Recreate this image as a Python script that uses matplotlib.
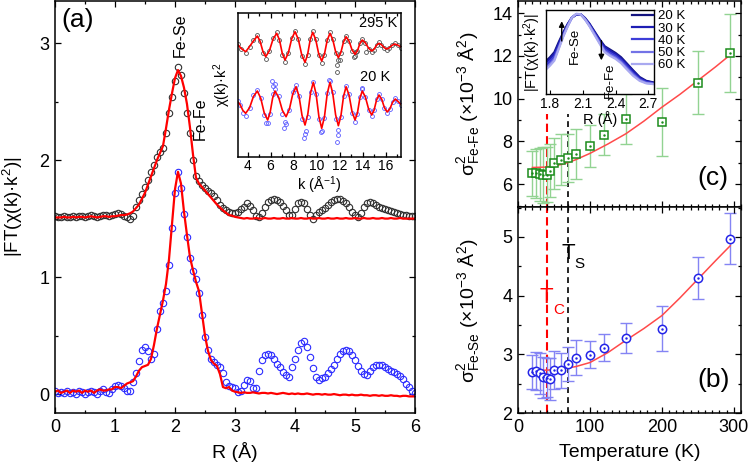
import numpy as np
import matplotlib.pyplot as plt
from matplotlib.ticker import MultipleLocator

plt.rcParams['font.family'] = ['Liberation Sans', 'DejaVu Sans']
plt.rcParams['mathtext.fontset'] = 'custom'
plt.rcParams['mathtext.rm'] = 'Liberation Sans'
plt.rcParams['mathtext.it'] = 'Liberation Sans:italic'
plt.rcParams['mathtext.default'] = 'regular'

# ---------------- panel (a): |FT| vs R ----------------
r_grid = np.round(np.arange(121) * 0.05, 2)

ft295_data = [1.52, 1.51, 1.51, 1.52, 1.51, 1.51, 1.52, 1.51, 1.52, 1.52,
              1.51, 1.52, 1.53, 1.52, 1.51, 1.52, 1.53, 1.53, 1.52, 1.53,
              1.54, 1.545, 1.54, 1.52, 1.51, 1.50, 1.52, 1.60, 1.66, 1.71,
              1.77, 1.83, 1.90, 1.96, 2.03, 2.07, 2.10, 2.23, 2.40, 2.54,
              2.68, 2.80, 2.73, 2.57, 2.40, 2.23, 2.00, 1.86, 1.82, 1.79,
              1.76, 1.735, 1.715, 1.69, 1.66, 1.62, 1.59, 1.57, 1.56, 1.55,
              1.55, 1.56, 1.58, 1.60, 1.63, 1.61, 1.57, 1.52, 1.51, 1.55,
              1.60, 1.64, 1.66, 1.665, 1.66, 1.64, 1.61, 1.57, 1.53, 1.53,
              1.58, 1.63, 1.645, 1.63, 1.58, 1.53, 1.50, 1.53, 1.56, 1.57,
              1.59, 1.62, 1.645, 1.66, 1.665, 1.665, 1.65, 1.63, 1.60, 1.56,
              1.53, 1.51, 1.55, 1.60, 1.63, 1.64, 1.635, 1.62, 1.60, 1.59,
              1.58, 1.575, 1.565, 1.56, 1.55, 1.54, 1.535, 1.53, 1.525, 1.52,
              1.52]
ft295_fit = [1.51, 1.51, 1.51, 1.515, 1.51, 1.51, 1.515, 1.51, 1.515, 1.515,
             1.51, 1.515, 1.52, 1.515, 1.51, 1.515, 1.52, 1.52, 1.515, 1.52,
             1.52, 1.525, 1.53, 1.53, 1.535, 1.545, 1.56, 1.59, 1.62, 1.67,
             1.72, 1.79, 1.86, 1.93, 2.00, 2.06, 2.12, 2.27, 2.43, 2.57,
             2.70, 2.77, 2.72, 2.62, 2.48, 2.28, 2.05, 1.85, 1.80, 1.77,
             1.74, 1.71, 1.68, 1.65, 1.62, 1.595, 1.57, 1.55, 1.53, 1.525,
             1.515, 1.51, 1.505, 1.50, 1.505, 1.50, 1.50, 1.505, 1.50, 1.50,
             1.505, 1.50, 1.50, 1.505, 1.50, 1.50, 1.505, 1.50, 1.50, 1.505,
             1.50, 1.50, 1.505, 1.50, 1.50, 1.505, 1.50, 1.50, 1.505, 1.50,
             1.50, 1.505, 1.50, 1.50, 1.505, 1.50, 1.50, 1.505, 1.50, 1.50,
             1.505, 1.50, 1.50, 1.505, 1.50, 1.50, 1.505, 1.50, 1.50, 1.505,
             1.50, 1.50, 1.505, 1.50, 1.50, 1.505, 1.50, 1.50, 1.50, 1.50,
             1.50]
ft20_data = [0.03, 0.01, 0.02, 0.01, 0.03, 0.01, 0.02, 0.00, 0.03, 0.02,
             0.00, 0.02, 0.03, 0.02, 0.00, 0.03, 0.04, 0.02, 0.01, 0.04,
             0.07, 0.08, 0.07, 0.05, 0.03, 0.03, 0.10, 0.18, 0.28, 0.38,
             0.40, 0.37, 0.30, 0.34, 0.56, 0.71, 0.78, 0.88, 1.10, 1.42,
             1.72, 1.90, 1.76, 1.54, 1.34, 1.16, 1.05, 0.98, 0.86, 0.68,
             0.49, 0.38, 0.30, 0.27, 0.25, 0.23, 0.18, 0.10, 0.07, 0.06,
             0.05, 0.02, 0.03, 0.08, 0.12, 0.11, 0.05, 0.05, 0.20, 0.29,
             0.33, 0.345, 0.335, 0.30, 0.26, 0.23, 0.19, 0.16, 0.15, 0.23,
             0.30, 0.38, 0.44, 0.45, 0.40, 0.32, 0.22, 0.15, 0.12, 0.14,
             0.15, 0.18, 0.21, 0.25, 0.30, 0.34, 0.37, 0.375, 0.365, 0.33,
             0.29, 0.24, 0.20, 0.17, 0.16, 0.20, 0.23, 0.245, 0.25, 0.245,
             0.23, 0.21, 0.195, 0.185, 0.175, 0.155, 0.13, 0.09, 0.06, 0.03,
             0.01]
ft20_fit = [0.02, 0.03, 0.01, 0.02, 0.03, 0.01, 0.03, 0.02, 0.03, 0.01,
            0.03, 0.02, 0.03, 0.01, 0.03, 0.04, 0.03, 0.03, 0.04, 0.04,
            0.06, 0.06, 0.05, 0.07, 0.09, 0.10, 0.11, 0.15, 0.20, 0.23,
            0.24, 0.25, 0.30, 0.42, 0.56, 0.68, 0.80, 0.94, 1.15, 1.45,
            1.75, 1.90, 1.80, 1.56, 1.36, 1.17, 1.06, 0.96, 0.88, 0.69,
            0.50, 0.37, 0.29, 0.26, 0.24, 0.17, 0.06, 0.05, 0.06, 0.03,
            0.02, 0.015, 0.01, 0.015, 0.01, 0.01, 0.015, 0.01, 0.005, 0.01,
            0.01, 0.005, 0.01, 0.005, 0.0, 0.005, 0.01, 0.005, 0.0, 0.005,
            0.0, 0.005, 0.0, 0.0, 0.005, 0.0, -0.005, 0.0, 0.0, -0.005,
            0.0, -0.005, -0.005, 0.0, -0.005, -0.01, -0.005, -0.005, -0.01, -0.005,
            -0.01, -0.01, -0.005, -0.01, -0.01, -0.015, -0.01, -0.01, -0.015, -0.01,
            -0.015, -0.015, -0.01, -0.015, -0.015, -0.02, -0.015, -0.015, -0.02, -0.02,
            -0.02]

# ---------------- inset of (a): chi(k) k^2 ----------------
k295 = [3.13, 3.45, 3.84, 4.18, 4.51, 4.85, 5.09, 5.34, 5.58, 5.90, 6.22, 6.54,
        6.78, 7.02, 7.26, 7.55, 7.84, 8.13, 8.42, 8.71, 9.00, 9.22, 9.45, 9.67,
        9.93, 10.19, 10.45, 10.69, 10.93, 11.17, 11.41, 11.66, 11.90, 12.12, 12.35,
        12.57, 12.83, 13.09, 13.35, 13.56, 13.77, 13.98, 14.25, 14.53, 14.80, 15.01,
        15.22, 15.43, 15.65, 15.88, 16.10, 16.33, 16.57, 16.80, 17.05, 17.35]
chi295_fit = [6.07, 5.65, 5.33, 5.85, 6.40, 6.90, 6.38, 5.35, 4.83, 5.42, 6.59, 7.17,
              6.50, 5.17, 4.50, 5.21, 6.62, 7.33, 6.57, 5.04, 4.27, 5.02, 6.52, 7.27,
              6.55, 5.12, 4.40, 5.09, 6.48, 7.17, 6.56, 5.34, 4.73, 5.26, 6.31, 6.83,
              6.39, 5.51, 5.07, 5.43, 6.14, 6.50, 6.22, 5.68, 5.40, 5.59, 5.98, 6.17,
              6.03, 5.74, 5.60, 5.72, 5.97, 6.10, 6.00, 5.80]
chi295_data = [6.15, 5.60, 5.20, 5.85, 6.50, 7.05, 6.40, 5.25, 4.65, 5.40, 6.70, 7.35,
               6.55, 5.05, 4.30, 5.20, 6.70, 7.45, 6.60, 4.95, 4.10, 5.00, 6.60, 7.40,
               6.60, 5.05, 4.25, 5.05, 6.55, 7.30, 6.60, 5.20, 4.55, 5.25, 6.40, 6.95,
               6.45, 5.45, 4.95, 5.40, 6.20, 6.65, 6.25, 5.60, 5.30, 5.55, 6.05, 6.30,
               6.05, 5.70, 5.50, 5.70, 6.00, 6.20, 6.00, 5.75]
k295_extra = [11.75, 11.80, 12.00, 13.30, 13.45, 14.30]
chi295_extra = [3.35, 4.05, 4.50, 4.80, 5.30, 5.30]

k20 = [3.13, 3.35, 3.60, 3.84, 4.18, 4.51, 4.85, 5.15, 5.45, 5.75, 5.96, 6.18, 6.39,
       6.71, 7.03, 7.35, 7.64, 7.93, 8.22, 8.48, 8.74, 9.00, 9.24, 9.48, 9.72, 9.96,
       10.21, 10.45, 10.69, 10.93, 11.17, 11.41, 11.66, 11.90, 12.12, 12.35, 12.57,
       12.83, 13.09, 13.35, 13.56, 13.77, 13.98, 14.25, 14.53, 14.80, 15.01, 15.22,
       15.43, 15.67, 15.91, 16.15, 16.38, 16.62, 16.85, 17.10, 17.35]
chi20_fit = [0.35, 0.05, -0.55, -0.83, -0.27, 0.84, 1.40, 0.68, -0.78, -1.50, -0.78,
             0.68, 1.40, 0.76, -0.53, -1.17, -0.42, 1.08, 1.83, 0.87, -1.04, -2.00,
             -0.93, 1.20, 2.27, 1.12, -1.18, -2.33, -1.18, 1.12, 2.27, 1.18, -0.98,
             -2.07, -1.10, 0.86, 1.83, 1.00, -0.67, -1.50, -0.78, 0.68, 1.40, 0.80,
             -0.40, -1.00, -0.50, 0.50, 1.00, 0.58, -0.28, -0.70, -0.38, 0.28, 0.60,
             0.35, 0.05]
chi20_data = [0.45, 0.00, -0.75, -1.05, -0.30, 1.00, 1.55, 0.70, -1.00, -1.80, -0.90,
              1.10, 2.10, 0.90, -0.90, -1.90, -0.50, 1.30, 2.00, 0.95, -1.40, -2.90,
              -1.20, 1.30, 2.35, 1.10, -1.40, -2.60, -1.30, 1.25, 2.45, 1.30, -1.40,
              -3.00, -1.20, 0.95, 1.95, 1.10, -0.80, -1.70, -0.90, 0.80, 1.60, 0.85,
              -0.45, -1.10, -0.50, 0.60, 1.15, 0.60, -0.30, -0.80, -0.40, 0.35, 0.70,
              0.40, 0.05]
k20_extra = [5.65, 6.15, 6.25, 6.35, 7.15, 7.25, 8.10, 8.95, 9.05, 10.40, 11.10,
             11.80, 11.85, 13.95]
chi20_extra = [-1.80, 2.40, 1.90, 1.60, -2.27, -1.70, 1.60, -3.33, -2.60, -2.67,
               2.50, -3.67, -2.50, 1.70]

# ---------------- panels (b), (c): sigma^2 vs T ----------------
temps = [20, 25, 30, 35, 40, 45, 50, 60, 70, 80, 100, 120, 150, 200, 250, 295]
sig_fese = [2.70, 2.72, 2.68, 2.61, 2.60, 2.58, 2.73, 2.73, 2.84, 2.94, 2.99,
            3.11, 3.28, 3.44, 4.30, 4.97]
err_fese = [0.29, 0.32, 0.35, 0.35, 0.33, 0.35, 0.32, 0.30, 0.29, 0.30, 0.23,
            0.23, 0.26, 0.38, 0.35, 0.43]
sig_fefe = [6.50, 6.50, 6.46, 6.42, 6.45, 6.63, 6.97, 7.15, 7.23, 7.41, 7.78,
            8.32, 9.06, 8.92, 10.75, 12.12]
err_fefe = [1.05, 1.15, 1.25, 1.30, 1.30, 1.25, 1.20, 1.20, 1.13, 1.18, 0.97,
            0.97, 1.16, 1.59, 1.49, 1.82]
fit_T = [20, 40, 60, 70, 80, 100, 125, 150, 175, 200, 225, 250, 275, 295]
fit_fese = [2.73, 2.73, 2.75, 2.77, 2.79, 2.86, 3.03, 3.24, 3.44, 3.66, 3.96,
            4.28, 4.60, 4.85]
fit_fefe = [6.78, 6.80, 6.92, 7.02, 7.14, 7.44, 7.88, 8.36, 8.95, 9.60, 10.20,
            10.85, 11.50, 12.05]
tc = 40
ts = 70

# ---------------- inset of (c): low-T FT curves ----------------
r_in = [1.76, 1.80, 1.84, 1.88, 1.92, 1.96, 2.00, 2.04, 2.08, 2.12, 2.16, 2.20,
        2.25, 2.30, 2.35, 2.40, 2.45, 2.50, 2.56, 2.62, 2.68, 2.75]
ft_lowT = {
    '20 K': [0.39, 0.44, 0.50, 0.62, 0.73, 0.83, 0.91, 0.945, 0.95, 0.905, 0.84,
             0.76, 0.66, 0.57, 0.53, 0.49, 0.44, 0.37, 0.285, 0.205, 0.16, 0.14],
    '30 K': [0.37, 0.42, 0.48, 0.60, 0.72, 0.825, 0.91, 0.947, 0.95, 0.90, 0.835,
             0.75, 0.65, 0.56, 0.515, 0.475, 0.425, 0.36, 0.275, 0.195, 0.155, 0.135],
    '40 K': [0.34, 0.39, 0.45, 0.57, 0.70, 0.815, 0.91, 0.95, 0.95, 0.895, 0.825,
             0.74, 0.635, 0.535, 0.49, 0.455, 0.405, 0.335, 0.25, 0.18, 0.145, 0.13],
    '50 K': [0.31, 0.36, 0.42, 0.55, 0.69, 0.805, 0.91, 0.952, 0.95, 0.89, 0.815,
             0.73, 0.62, 0.515, 0.47, 0.435, 0.385, 0.315, 0.235, 0.17, 0.135, 0.125],
    '60 K': [0.29, 0.34, 0.40, 0.54, 0.68, 0.80, 0.91, 0.955, 0.95, 0.89, 0.81,
             0.72, 0.61, 0.50, 0.455, 0.42, 0.37, 0.30, 0.22, 0.16, 0.13, 0.12],
}
lowT_colors = ['#14147f', '#1e1eb4', '#3e3ed8', '#7373e6', '#a9a9f0']


def style(ax, fs=13, top=True, right=True):
    ax.tick_params(which='both', direction='in', top=top, right=right,
                   labelsize=fs, width=0.9)
    ax.tick_params(which='major', length=4.5, pad=4)
    ax.tick_params(which='minor', length=2.5)
    for s in ax.spines.values():
        s.set_linewidth(1.1)


fig = plt.figure(figsize=(7.5, 4.65), dpi=100)
axa = fig.add_axes([0.0733, 0.1118, 0.48, 0.886])
axc = fig.add_axes([0.6907, 0.5548, 0.2973, 0.443])
axb = fig.add_axes([0.6907, 0.1118, 0.2973, 0.443], sharex=axc)
insa = fig.add_axes([0.3167, 0.6634, 0.218, 0.3097])
insc = fig.add_axes([0.728, 0.7972, 0.144, 0.1813])

# ---- (a)
axa.plot(r_grid, ft295_data, 'o', mfc='none', mec='#303030', ms=4.6, mew=0.8)
axa.plot(r_grid, ft20_data, 'o', mfc='none', mec='#2c2cff', ms=4.6, mew=0.8)
axa.plot(r_grid, ft295_fit, '-', color='red', lw=1.6)
axa.plot(r_grid, ft20_fit, '-', color='red', lw=1.6)
axa.set_xlim(0, 6)
axa.set_ylim(-0.162, 3.36)
axa.xaxis.set_major_locator(MultipleLocator(1))
axa.xaxis.set_minor_locator(MultipleLocator(0.5))
axa.yaxis.set_major_locator(MultipleLocator(1))
axa.yaxis.set_minor_locator(MultipleLocator(0.5))
style(axa)
axa.set_xlabel('R (Å)', fontsize=14)
axa.xaxis.set_label_coords(0.5, -0.07)
axa.set_ylabel('|FT(χ(k)·k$^2$)|', fontsize=13.5)
axa.yaxis.set_label_coords(-0.082, 0.5)
axa.text(0.0625, 0.955, '(a)', transform=axa.transAxes, fontsize=19,
         ha='center', va='center')
axa.text(2.08, 3.07, 'Fe-Se', rotation=90, fontsize=11.5, ha='center', va='center')
axa.text(2.42, 2.35, 'Fe-Fe', rotation=90, fontsize=11.5, ha='center', va='center')

# ---- inset (a)
insa.plot(k295, chi295_data, 'o', mfc='none', mec='#505050', ms=2.8, mew=0.6)
insa.plot(k295_extra, chi295_extra, 'o', mfc='none', mec='#505050', ms=2.8, mew=0.6)
insa.plot(k20, chi20_data, 'o', mfc='none', mec='#5a5aff', ms=2.8, mew=0.6)
insa.plot(k20_extra, chi20_extra, 'o', mfc='none', mec='#5a5aff', ms=2.8, mew=0.6)
insa.plot(k295, chi295_fit, '-', color='red', lw=1.2)
insa.plot(k20, chi20_fit, '-', color='red', lw=1.2)
insa.set_xlim(3.13, 17.35)
insa.set_ylim(-5.15, 9.25)
insa.xaxis.set_major_locator(MultipleLocator(2))
insa.xaxis.set_minor_locator(MultipleLocator(1))
insa.set_yticks([])
style(insa, fs=10, right=False)
insa.tick_params(which='major', length=3.5, pad=2)
insa.tick_params(which='minor', length=2)
insa.set_xlabel('k (Å$^{-1}$)', fontsize=10.5, labelpad=1)
insa.set_ylabel('χ(k)·k$^2$', fontsize=10.5, labelpad=3)
insa.text(0.86, 0.925, '295 K', transform=insa.transAxes, fontsize=10.5,
          ha='center', va='center')
insa.text(0.84, 0.554, '20 K', transform=insa.transAxes, fontsize=10.5,
          ha='center', va='center')

# ---- (c) Fe-Fe
axc.errorbar(temps, sig_fefe, yerr=err_fefe, fmt='none', ecolor='#92d392',
             elinewidth=1.0, capsize=4.5, capthick=1.0, zorder=1)
axc.plot(fit_T, fit_fefe, '-', color='#ff4a4a', lw=1.1, zorder=2)
axc.plot(temps, sig_fefe, 's', mfc='white', mec='#1b8c1b', ms=5.5, mew=1.1, zorder=3)
axc.plot(temps, sig_fefe, '.', color='#1b8c1b', ms=1.5, zorder=4)
axc.set_ylim(4.93, 14.57)
axc.axvline(tc, ymax=(9.3 - 4.93) / (14.57 - 4.93), color='red', lw=1.5,
            ls=(0, (4, 2)), zorder=0)
axc.axvline(ts, ymax=(9.3 - 4.93) / (14.57 - 4.93), color='black', lw=1.2,
            ls=(0, (3.5, 2.5)), zorder=0)
axc.yaxis.set_major_locator(MultipleLocator(2))
axc.yaxis.set_minor_locator(MultipleLocator(1))
style(axc)
axc.tick_params(labelbottom=False)
axc.set_ylabel(r'$\sigma^{2}_{\mathrm{Fe\text{-}Fe}}$ (×10$^{-3}$ Å$^2$)', fontsize=14)
axc.yaxis.set_label_coords(-0.16, 0.5)
axc.text(0.874, 0.143, '(c)', transform=axc.transAxes, fontsize=19,
         ha='center', va='center')

# ---- (b) Fe-Se
axb.errorbar(temps, sig_fese, yerr=err_fese, fmt='none', ecolor='#8484f4',
             elinewidth=1.0, capsize=4.5, capthick=1.0, zorder=1)
axb.plot(fit_T, fit_fese, '-', color='#ff4a4a', lw=1.1, zorder=2)
axb.plot(temps, sig_fese, 'o', mfc='white', mec='#2424e8', ms=6, mew=1.1, zorder=3)
axb.plot(temps, sig_fese, '.', color='#2424e8', ms=1.5, zorder=4)
axb.axvline(tc, color='red', lw=1.5, ls=(0, (4, 2)), zorder=0)
axb.axvline(ts, color='black', lw=1.2, ls=(0, (3.5, 2.5)), zorder=0)
axb.set_xlim(0, 310)
axb.set_ylim(2, 5.51)
axb.xaxis.set_major_locator(MultipleLocator(100))
axb.xaxis.set_minor_locator(MultipleLocator(10))
axb.yaxis.set_major_locator(MultipleLocator(1))
axb.yaxis.set_minor_locator(MultipleLocator(0.5))
style(axb)
axb.set_xlabel('Temperature (K)', fontsize=14)
axb.xaxis.set_label_coords(0.5, -0.15)
axb.set_ylabel(r'$\sigma^{2}_{\mathrm{Fe\text{-}Se}}$ (×10$^{-3}$ Å$^2$)', fontsize=14)
axb.yaxis.set_label_coords(-0.16, 0.5)
axb.text(0.879, 0.16, '(b)', transform=axb.transAxes, fontsize=19,
         ha='center', va='center')
axb.text(tc, 3.96, 'T', color='red', fontsize=16, ha='center', va='center')
axb.text(tc + 17, 3.75, 'C', color='red', fontsize=11, ha='center', va='center')
axb.text(ts, 4.72, 'T', color='black', fontsize=16, ha='center', va='center')
axb.text(ts + 15, 4.54, 'S', color='black', fontsize=11, ha='center', va='center')

# ---- inset (c)
lines = []
for (lab, vals), col in zip(ft_lowT.items(), lowT_colors):
    ln, = insc.plot(r_in, vals, '-', color=col, lw=1.6, label=lab)
    lines.append(ln)
insc.set_xlim(1.763, 2.752)
insc.set_ylim(0, 1)
insc.set_xticks([1.8, 2.1, 2.4, 2.7])
insc.set_yticks([])
insc.tick_params(direction='in', length=3, width=0.8, labelsize=10, pad=2)
for s in insc.spines.values():
    s.set_linewidth(1.0)
insc.set_xlabel('R (Å)', fontsize=10.5, labelpad=0)
insc.set_ylabel('|FT(χ(k)·k$^2$)|', fontsize=10.5, labelpad=2)
insc.annotate('', xy=(1.907, 0.90), xytext=(1.907, 0.60),
              arrowprops=dict(arrowstyle='-|>', color='black', lw=1.0, mutation_scale=8))
insc.annotate('', xy=(2.27, 0.37), xytext=(2.27, 0.67),
              arrowprops=dict(arrowstyle='-|>', color='black', lw=1.0, mutation_scale=8))
insc.text(2.025, 0.58, 'Fe-Se', rotation=90, fontsize=9.5, ha='center', va='center')
insc.text(2.35, 0.17, 'Fe-Fe', rotation=90, fontsize=9.5, ha='center', va='center')
fig.legend(handles=lines, loc='upper left', bbox_to_anchor=(0.843, 0.978),
           frameon=False, fontsize=9.5, handlelength=1.6, handletextpad=0.35,
           labelspacing=0.0, borderpad=0, borderaxespad=0)

fig.savefig('out.png', dpi=100)
